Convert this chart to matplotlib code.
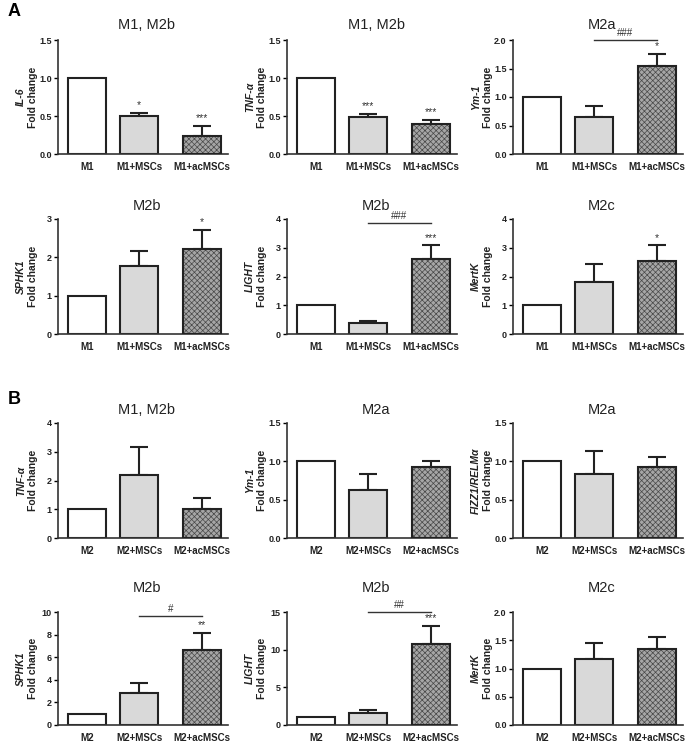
import matplotlib
matplotlib.use("Agg")
import matplotlib.pyplot as plt

plt.rcParams['font.family'] = ['Liberation Sans', 'DejaVu Sans']
plt.rcParams['hatch.linewidth'] = 0.5

# Values (mean, upper error = SEM)
groups_A = ["M1", "M1+MSCs", "M1+acMSCs"]
groups_B = ["M2", "M2+MSCs", "M2+acMSCs"]

titles = ["M1, M2b", "M1, M2b", "M2a", "M2b", "M2b", "M2c",
          "M1, M2b", "M2a", "M2a", "M2b", "M2b", "M2c"]
genes = ["IL-6", "TNF-\u03b1", "Ym-1", "SPHK1", "LIGHT", "MertK",
         "TNF-\u03b1", "Ym-1", "FIZZ1/RELM\u03b1", "SPHK1", "LIGHT", "MertK"]
means = [[1.0, 0.50, 0.24], [1.0, 0.49, 0.39], [1.0, 0.65, 1.54],
         [1.0, 1.78, 2.22], [1.0, 0.37, 2.60], [1.0, 1.80, 2.55],
         [1.0, 2.18, 1.02], [1.0, 0.63, 0.92], [1.0, 0.84, 0.92],
         [1.0, 2.80, 6.65], [1.0, 1.55, 10.8], [1.0, 1.17, 1.35]]
sems = [[0, 0.04, 0.13], [0, 0.04, 0.06], [0, 0.19, 0.21],
        [0, 0.38, 0.50], [0, 0.08, 0.48], [0, 0.63, 0.53],
        [0, 1.00, 0.36], [0, 0.20, 0.09], [0, 0.29, 0.14],
        [0, 0.90, 1.50], [0, 0.40, 2.40], [0, 0.28, 0.21]]
stars = [["", "*", "***"], ["", "***", "***"], ["", "", "*"],
         ["", "", "*"], ["", "", "***"], ["", "", "*"],
         ["", "", ""], ["", "", ""], ["", "", ""],
         ["", "", "**"], ["", "", "***"], ["", "", ""]]
# bracket between MSCs and acMSCs: (label, height) or None
brackets = [None, None, ("###", 2.0), None, ("###", 3.86), None,
            None, None, None, ("#", 9.65), ("##", 15.0), None]
ymax = [1.5, 1.5, 2.0, 3, 4, 4, 4, 1.5, 1.5, 10, 15, 2.0]
ysteps = [0.5, 0.5, 0.5, 1, 1, 1, 1, 0.5, 0.5, 2, 5, 0.5]

xpos = [0, 1, 2.2]
W, H = 685, 743
col_left = [58, 287, 513]
row_top = [40, 219, 423, 612]
row_bot = [154, 334, 538, 725]
title_y = [25, 206, 410, 588]
ax_w = 170

fig = plt.figure(figsize=(W / 100, H / 100), dpi=100)

for i in range(12):
    r, c = divmod(i, 3)
    ax = fig.add_axes([col_left[c] / W, 1 - row_bot[r] / H,
                       ax_w / W, (row_bot[r] - row_top[r]) / H])
    m = means[i]
    s = sems[i]
    bw = 0.73
    ax.bar(xpos[0], m[0], width=bw, color="white", edgecolor="#222222", linewidth=1.5, zorder=2)
    ax.bar(xpos[1], m[1], width=bw, color="#d9d9d9", edgecolor="#222222", linewidth=1.5, zorder=2)
    ax.bar(xpos[2], m[2], width=bw, color="#a6a6a6", edgecolor="#484848", hatch="xxxxxx",
           linewidth=0, zorder=2)
    ax.bar(xpos[2], m[2], width=bw, color="none", edgecolor="#222222", linewidth=1.5, zorder=3)
    for k in (1, 2):
        ax.errorbar(xpos[k], m[k], yerr=[[0], [s[k]]], fmt="none", ecolor="#222222",
                    elinewidth=1.5, capsize=6.5, capthick=1.5, zorder=1)
        if stars[i][k]:
            ax.annotate(stars[i][k], (xpos[k], m[k] + s[k]), xytext=(0, 2),
                        textcoords="offset points", ha="center", va="bottom",
                        fontsize=7.5, color="#333333", annotation_clip=False)
    if brackets[i]:
        lab, hgt = brackets[i]
        ax.plot([xpos[1], xpos[2]], [hgt, hgt], color="#333333", lw=1.0, clip_on=False)
        ax.annotate(lab, ((xpos[1] + xpos[2]) / 2, hgt), xytext=(0, 1.5),
                    textcoords="offset points", ha="center", va="bottom",
                    fontsize=7, color="#333333", annotation_clip=False)

    ax.set_xlim(-0.55, 2.7)
    ax.set_ylim(0, ymax[i])
    nt = int(round(ymax[i] / ysteps[i]))
    ticks = [ysteps[i] * t for t in range(nt + 1)]
    ax.set_yticks(ticks)
    if ysteps[i] < 1:
        ax.set_yticklabels([f"{t:.1f}" for t in ticks])
    else:
        ax.set_yticklabels([f"{t:g}" for t in ticks])
    ax.set_xticks(xpos)
    ax.set_xticklabels(groups_A if r < 2 else groups_B)
    ax.tick_params(axis="x", length=0, pad=6, labelsize=7)
    ax.tick_params(axis="y", length=3, width=1.0, pad=1.5, labelsize=6.5)
    for lbl in ax.get_xticklabels() + ax.get_yticklabels():
        lbl.set_fontweight("bold")
        lbl.set_color("#222222")
    for sp in ("top", "right"):
        ax.spines[sp].set_visible(False)
    for sp in ("left", "bottom"):
        ax.spines[sp].set_linewidth(1.2)
        ax.spines[sp].set_color("#333333")

    ax.text(-37 / ax_w, 0.5, genes[i], transform=ax.transAxes, rotation=90,
            ha="center", va="center", fontsize=7.5, fontstyle="italic",
            fontweight="bold", color="#222222")
    ax.text(-25 / ax_w, 0.5, "Fold change", transform=ax.transAxes, rotation=90,
            ha="center", va="center", fontsize=7.5, fontweight="bold", color="#222222")

    fig.text((col_left[c] + ax_w / 2 + 4) / W, 1 - title_y[r] / H, titles[i],
             ha="center", va="center", fontsize=10.5, color="#222222")

fig.text(8 / W, 1 - 12 / H, "A", fontsize=13, fontweight="bold", va="center", ha="left")
fig.text(8 / W, 1 - 400 / H, "B", fontsize=13, fontweight="bold", va="center", ha="left")

fig.savefig("out.png", dpi=100)
